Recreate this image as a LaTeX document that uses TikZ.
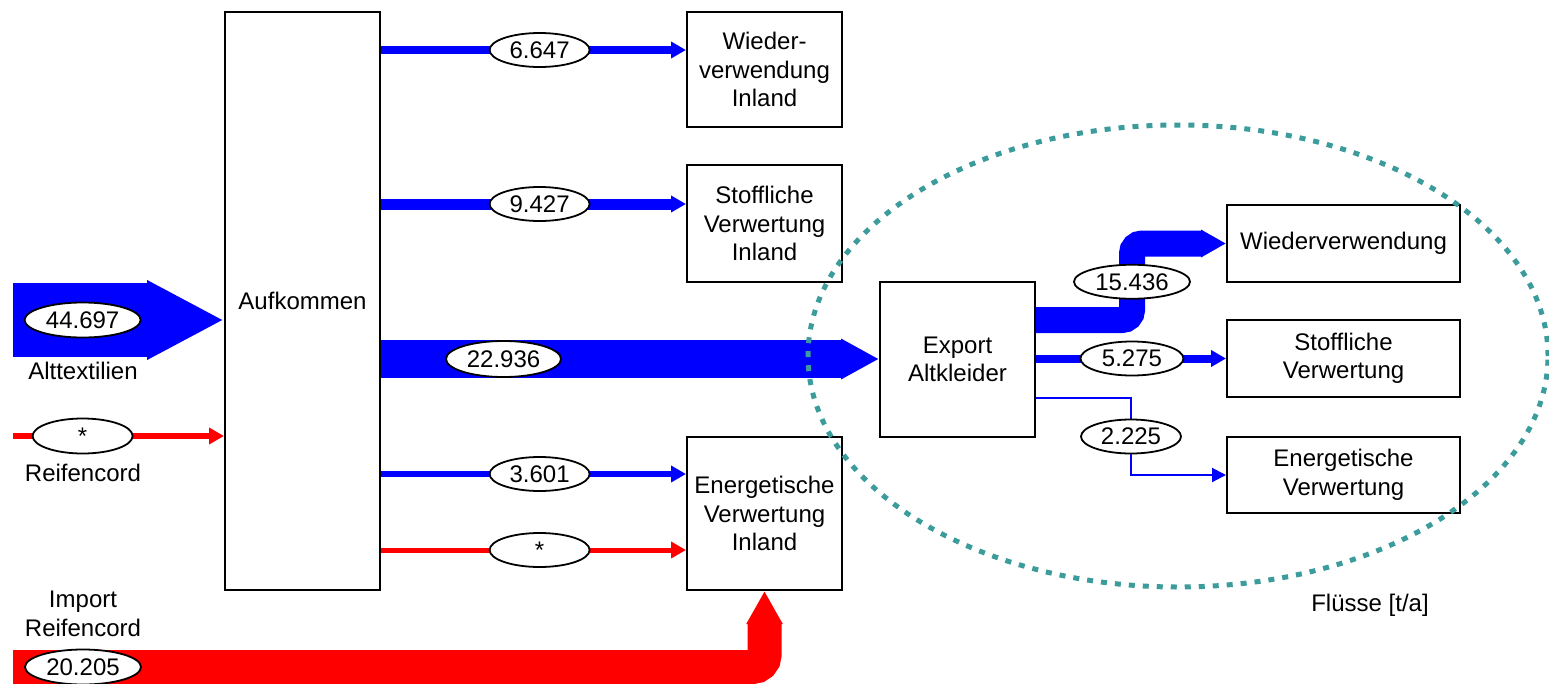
\documentclass[tikz,border=0pt]{standalone}
\usepackage{fontspec}
\setmainfont{Liberation Sans}
\usetikzlibrary{arrows.meta,shapes.geometric,calc}
\definecolor{fblue}{RGB}{0,0,255}
\definecolor{fred}{RGB}{255,0,0}
\definecolor{dotteal}{RGB}{60,155,155}
\begin{document}
\begin{tikzpicture}[x=1pt,y=-1pt,
  box/.style={draw,line width=2pt,align=center,font=\fontsize{24}{28.5}\selectfont,inner sep=0pt},
  lbl/.style={ellipse,draw=black,text=black,fill=white,line width=1.8pt,minimum width=100pt,minimum height=34pt,inner sep=0pt,font=\fontsize{24}{28}\selectfont},
  txt/.style={align=center,font=\fontsize{24}{28.5}\selectfont,inner sep=0pt},
  thin/.style={line width=#1,-{Triangle[length=15pt,width=16pt]}},
  ]
\useasboundingbox (0,0) rectangle (1549,683);

% boxes
\node[box,minimum width=155pt,minimum height=578pt] (auf) at (302.5,301) {Aufkommen};
\node[box,minimum width=155pt,minimum height=115pt] (wvi) at (764.5,69.5) {Wieder-\\verwendung\\Inland};
\node[box,minimum width=155pt,minimum height=117pt] (svi) at (764.5,223.5) {Stoffliche\\Verwertung\\Inland};
\node[box,minimum width=155pt,minimum height=153pt] (evi) at (764.5,513.5) {Energetische\\Verwertung\\Inland};
\node[box,minimum width=155pt,minimum height=155pt] (exp) at (957.5,359.5) {Export\\Altkleider};
\node[box,minimum width=233pt,minimum height=77pt] (wv) at (1343.5,243.5) {Wiederverwendung};
\node[box,minimum width=233pt,minimum height=77pt] (sv) at (1343.5,358.5) {Stoffliche\\Verwertung};
\node[box,minimum width=233pt,minimum height=76pt] (ev) at (1343.5,475) {Energetische\\Verwertung};

% inputs
\coordinate (alt) at (13,320);
\draw[fblue,line width=74pt,-{Triangle[length=77pt,width=74pt]}] (alt) -- (auf.west |- alt)
  node[lbl,pos=0.33,minimum width=116pt,minimum height=35pt] {44.697};
\node[txt] (altl) at (83,371) {Alttextilien};

\coordinate (rc) at (13,436);
\draw[fred,thin=6pt] (rc) -- (auf.west |- rc)
  node[lbl,pos=0.33,minimum height=35pt] {*};
\node[txt] (rcl) at (83,473) {Reifencord};

\coordinate (imp) at (13,667);
\draw[fred,line width=34pt,rounded corners=12pt,-{Triangle[length=33pt,width=34pt]}]
  (imp) -- (evi.south |- imp) -- (evi.south);
\node[lbl,minimum width=116pt,minimum height=35pt] (impv) at (83,667) {20.205};
\node[txt] (impl) at (83,614) {Import\\Reifencord};

% outputs from Aufkommen
\draw[fblue,thin=8pt] (auf.east |- 0,50) -- (wvi.west |- 0,50) node[lbl,pos=0.52] {6.647};
\draw[fblue,thin=11pt] (auf.east |- 0,204) -- (svi.west |- 0,204) node[lbl,pos=0.52] {9.427};
\draw[fblue,line width=38pt,-{Triangle[length=38pt,width=38pt]}] (auf.east |- 0,359) -- (exp.west |- 0,359)
  node[lbl,pos=0.246,minimum width=115pt,minimum height=36pt] {22.936};
\draw[fblue,thin=6pt] (auf.east |- 0,474) -- (evi.west |- 0,474) node[lbl,pos=0.52] {3.601};
\draw[fred,thin=5pt] (auf.east |- 0,550) -- (evi.west |- 0,550) node[lbl,pos=0.52] {*};

% export flows
\draw[fblue,line width=26pt,rounded corners=10pt,-{Triangle[length=25pt,width=26pt]}]
  (exp.east |- 0,320) -- (1132,320) -- node[lbl,minimum width=116pt] {15.436} (1132,243.5) -- (wv.west);
\draw[fblue,thin=8pt] (exp.east |- sv.west) -- (sv.west) node[lbl,pos=0.505,minimum width=103pt] {5.275};
\draw[fblue,line width=2pt,-{Triangle[length=14pt,width=14pt]}]
  (exp.east |- 0,398) -- (1131,398) -- node[lbl] {2.225} (1131,475) -- (ev.west);

% dotted ellipse
\draw[dotteal,line width=5pt,dash pattern=on 6pt off 8pt] (1178,356) ellipse [x radius=370pt, y radius=231pt];
\node[txt] (fl) at (1370,605) {Flüsse [t/a]};
\end{tikzpicture}
\end{document}
